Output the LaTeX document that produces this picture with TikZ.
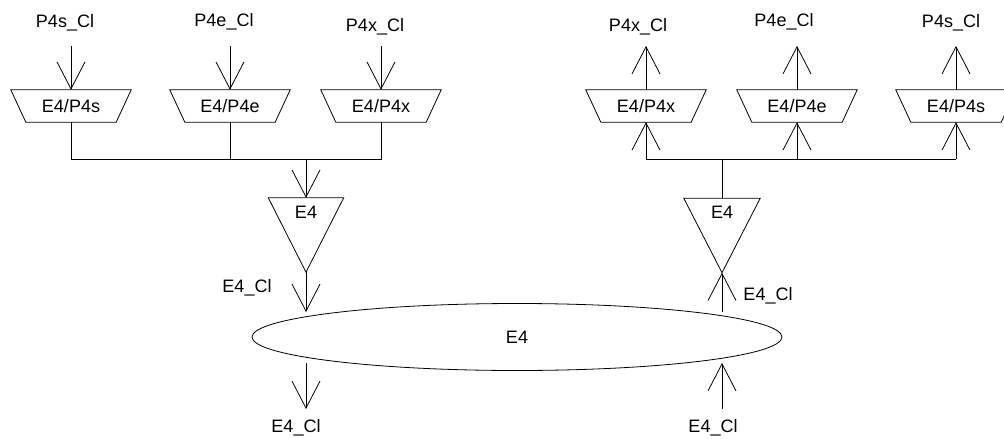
\documentclass[tikz,border=0pt]{standalone}
\usepackage{fontspec}
\setmainfont{Liberation Sans}
\usetikzlibrary{arrows.meta,shapes.geometric}
\tikzset{
  wire/.style={line width=0.8pt},
  lbl/.style={font=\fontsize{18}{21}\selectfont, inner sep=0pt},
  trapbox/.style={lbl, minimum width=120pt, minimum height=32pt},
  tribox/.style={inner sep=0pt, minimum width=75pt, minimum height=74pt},
  arr/.style={wire, -{Straight Barb[length=27pt,width=28pt,line width=0.8pt]}},
}
\newcommand{\trapdraw}[1]{\draw[wire] (#1.north west) -- (#1.north east) -- ([xshift=-15pt]#1.south east) -- ([xshift=15pt]#1.south west) -- cycle;}
\newcommand{\tridraw}[1]{\draw[wire] (#1.north west) -- (#1.north east) -- (#1.south) -- cycle;}
\begin{document}
\begin{tikzpicture}[x=1pt,y=-1pt]
\useasboundingbox (0,0) rectangle (1004,439);
% ---------- left side ----------
\node[trapbox] (L1) at (71,106) {E4/P4s};
\node[trapbox] (L2) at (230,106) {E4/P4e};
\node[trapbox] (L3) at (381,106) {E4/P4x};
\trapdraw{L1}\trapdraw{L2}\trapdraw{L3}
\node[lbl] (lp1) at (65,23) {P4s\_Cl};
\node[lbl] (lp2) at (224,22) {P4e\_Cl};
\node[lbl] (lp3) at (375,27) {P4x\_Cl};
\coordinate (la1) at (71,46);
\coordinate (la2) at (230,46);
\coordinate (la3) at (381,46);
\draw[arr] (la1) -- (L1.north);
\draw[arr] (la2) -- (L2.north);
\draw[arr] (la3) -- (L3.north);
\coordinate (lb1) at (71,159);
\coordinate (lb2) at (230,159);
\coordinate (lb3) at (381,159);
\coordinate (lj) at (306,159);
\draw[wire] (L1.south) -- (lb1) -- (lb3) -- (L3.south);
\draw[wire] (L2.south) -- (lb2);
\node[tribox] (T1) at (306,235) {};
\tridraw{T1}
\node[lbl, anchor=north] at ([yshift=-8pt]T1.north) {E4};
\draw[arr] (lj) -- (T1.north);
% ---------- right side ----------
\node[trapbox] (R1) at (646,106) {E4/P4x};
\node[trapbox] (R2) at (797,106) {E4/P4e};
\node[trapbox] (R3) at (956,106) {E4/P4s};
\trapdraw{R1}\trapdraw{R2}\trapdraw{R3}
\node[lbl] (rp1) at (638,27) {P4x\_Cl};
\node[lbl] (rp2) at (784,22) {P4e\_Cl};
\node[lbl] (rp3) at (951,23) {P4s\_Cl};
\coordinate (ra1) at (646,46);
\coordinate (ra2) at (797,46);
\coordinate (ra3) at (956,46);
\draw[arr] (R1.north) -- (ra1);
\draw[arr] (R2.north) -- (ra2);
\draw[arr] (R3.north) -- (ra3);
\coordinate (rb1) at (646,159);
\coordinate (rb2) at (797,159);
\coordinate (rb3) at (956,159);
\coordinate (rj) at (722,159);
\draw[wire] (rb1) -- (rb3);
\draw[arr] (rb1) -- (R1.south);
\draw[arr] (rb2) -- (R2.south);
\draw[arr] (rb3) -- (R3.south);
\node[tribox, minimum width=76pt] (T2) at (722,235.5) {};
\tridraw{T2}
\node[lbl, anchor=north] at ([yshift=-8pt]T2.north) {E4};
\draw[wire] (rj) -- (T2.north);
% ---------- ellipse ----------
\node[draw, wire, ellipse, lbl, minimum width=530pt, minimum height=67pt] (ell) at (517,337) {E4};
\coordinate (e1) at (306,312);
\coordinate (e2) at (306,363);
\coordinate (e3) at (306,409);
\coordinate (e4) at (722,312);
\coordinate (e5) at (722,363);
\coordinate (e6) at (722,409);
\draw[arr] (T1.south) -- (e1);
\draw[arr] (e2) -- (e3);
\draw[arr] (e4) -- (T2.south);
\draw[arr] (e6) -- (e5);
\node[lbl] (c1) at (247,288) {E4\_Cl};
\node[lbl] (c2) at (768,296) {E4\_Cl};
\node[lbl] (c3) at (296,428) {E4\_Cl};
\node[lbl] (c4) at (713,428) {E4\_Cl};
\end{tikzpicture}
\end{document}
